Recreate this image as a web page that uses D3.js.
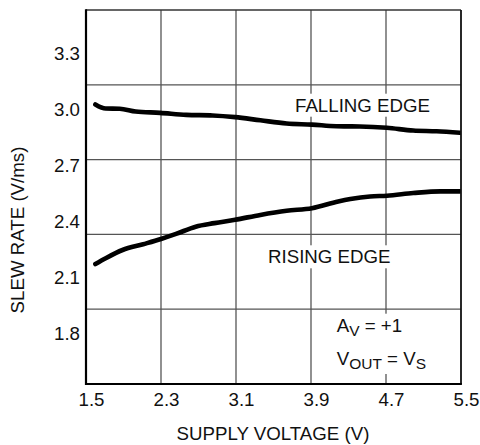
<!DOCTYPE html>
<html>
<head>
<meta charset="utf-8">
<script src="https://cdn.jsdelivr.net/npm/d3@7"></script>
<style>
  html, body { margin: 0; padding: 0; background: #fff; }
  svg { display: block; }
  text { font-family: "Liberation Sans", Arial, sans-serif; fill: #111; }
</style>
</head>
<body>
<svg id="chart" width="480" height="445"></svg>
<script>
// ---- data ----
const xTicks = [1.5, 2.3, 3.1, 3.9, 4.7, 5.5];
const yTicks = [1.8, 2.1, 2.4, 2.7, 3.0, 3.3];

const fallingV = [1.60, 1.71, 1.86, 2.03, 2.29, 2.57, 2.85, 3.09, 3.36, 3.64, 3.91, 4.17, 4.42, 4.71, 4.99, 5.24, 5.49];
const fallingRate = [3.026, 3.004, 3.003, 2.988, 2.981, 2.970, 2.967, 2.958, 2.941, 2.924, 2.918, 2.909, 2.908, 2.901, 2.886, 2.882, 2.874];

const risingV = [1.60, 1.71, 1.89, 2.11, 2.30, 2.46, 2.67, 2.87, 3.09, 3.36, 3.64, 3.91, 4.19, 4.32, 4.53, 4.71, 4.99, 5.28, 5.49];
const risingRate = [2.171, 2.202, 2.246, 2.277, 2.305, 2.332, 2.371, 2.390, 2.408, 2.434, 2.456, 2.470, 2.506, 2.519, 2.533, 2.537, 2.551, 2.560, 2.560];

// ---- layout ----
const margin = {top: 10, left: 86, right: 19, bottom: 61};
const W = 480, H = 445;
const w = W - margin.left - margin.right;
const h = H - margin.top - margin.bottom;

const svg = d3.select("#chart");
const g = svg.append("g").attr("transform", `translate(${margin.left},${margin.top})`);

const x = d3.scaleLinear().domain([1.5, 5.5]).range([0, w]);
const y = d3.scaleLinear().domain([1.528, 3.532]).range([h, 0]);

// grid (5 equal divisions each way)
const gridFr = [1, 2, 3, 4].map(i => i / 5);
g.append("g").selectAll("line.gv").data(gridFr).join("line")
  .attr("x1", d => d * w).attr("x2", d => d * w)
  .attr("y1", 0).attr("y2", h)
  .attr("stroke", "#555").attr("stroke-width", 1.3);
g.append("g").selectAll("line.gh").data(gridFr).join("line")
  .attr("x1", 0).attr("x2", w)
  .attr("y1", d => d * h).attr("y2", d => d * h)
  .attr("stroke", "#555").attr("stroke-width", 1.3);

// labels with white background
const labelLayer = g.append("g");
function label(tx, ty, build) {
  const grp = labelLayer.append("g");
  const bg = grp.append("rect").attr("fill", "#fff");
  const t = grp.append("text").attr("x", tx).attr("y", ty).style("font-size", "18.7px");
  build(t);
  const bb = t.node().getBBox();
  bg.attr("x", bb.x - 3).attr("y", bb.y - 1).attr("width", bb.width + 6).attr("height", bb.height + 2);
}
label(295 - margin.left, 111.7 - margin.top, t => t.text("FALLING EDGE"));
label(268 - margin.left, 263.3 - margin.top, t => t.text("RISING EDGE"));

// annotation box
{
  const grp = labelLayer.append("g");
  const bg = grp.append("rect").attr("fill", "#fff");
  const ax = 336.7 - margin.left;
  const t1 = grp.append("text").attr("x", ax).attr("y", 331.7 - margin.top).style("font-size", "18.7px");
  t1.append("tspan").text("A");
  t1.append("tspan").attr("dy", 4).style("font-size", "15.5px").text("V");
  t1.append("tspan").attr("dy", -4).text(" = +1");
  const t2 = grp.append("text").attr("x", ax).attr("y", 365 - margin.top).style("font-size", "18.7px");
  t2.append("tspan").text("V");
  t2.append("tspan").attr("dy", 4).style("font-size", "15.5px").text("OUT");
  t2.append("tspan").attr("dy", -4).text(" = V");
  t2.append("tspan").attr("dy", 4).style("font-size", "15.5px").text("S");
  const b1 = t1.node().getBBox(), b2 = t2.node().getBBox();
  const x0 = Math.min(b1.x, b2.x) - 4, x1 = Math.max(b1.x + b1.width, b2.x + b2.width) + 4;
  bg.attr("x", x0).attr("y", b1.y - 1).attr("width", x1 - x0).attr("height", b2.y + b2.height - b1.y + 3);
}

// curves
g.append("clipPath").attr("id", "clip").append("rect").attr("width", w).attr("height", h);
const line = d3.line().x(d => x(d[0])).y(d => y(d[1])).curve(d3.curveMonotoneX);
const series = [
  d3.zip(fallingV, fallingRate),
  d3.zip(risingV, risingRate)
];
g.append("g").attr("clip-path", "url(#clip)").selectAll("path").data(series).join("path")
  .attr("d", line)
  .attr("fill", "none").attr("stroke", "#000").attr("stroke-width", 4.6)
  .attr("stroke-linecap", "round").attr("stroke-linejoin", "round");

// frame
g.append("line").attr("x1", 0).attr("x2", w).attr("y1", 0).attr("y2", 0).attr("stroke", "#333").attr("stroke-width", 1.5);
g.append("line").attr("x1", w).attr("x2", w).attr("y1", 0).attr("y2", h).attr("stroke", "#111").attr("stroke-width", 1.8);
g.append("line").attr("x1", 0).attr("x2", 0).attr("y1", -0.75).attr("y2", h + 1).attr("stroke", "#000").attr("stroke-width", 2.2);
g.append("line").attr("x1", -1).attr("x2", w + 0.9).attr("y1", h).attr("y2", h).attr("stroke", "#000").attr("stroke-width", 2.2);

// axes (labels only)
const xAxis = g.append("g").attr("transform", `translate(0,${h})`)
  .call(d3.axisBottom(x).tickValues(xTicks).tickSize(0).tickPadding(9).tickFormat(d3.format(".1f")));
xAxis.select(".domain").remove();
xAxis.selectAll("text").attr("dx", 5).style("font-size", "18.7px").style("font-family", "'Liberation Sans', Arial, sans-serif").attr("fill", "#111");

const yAxis = g.append("g")
  .call(d3.axisLeft(y).tickValues(yTicks).tickSize(0).tickPadding(6).tickFormat(d3.format(".1f")));
yAxis.select(".domain").remove();
yAxis.selectAll("text").style("font-size", "18.7px").style("font-family", "'Liberation Sans', Arial, sans-serif").attr("fill", "#111");

// axis titles
svg.append("text").attr("x", 273).attr("y", 440).attr("text-anchor", "middle")
  .style("font-size", "18.7px").text("SUPPLY VOLTAGE (V)");
svg.append("text").attr("transform", "translate(24,230) rotate(-90)").attr("text-anchor", "middle")
  .style("font-size", "18.7px").text("SLEW RATE (V/ms)");
</script>
</body>
</html>
